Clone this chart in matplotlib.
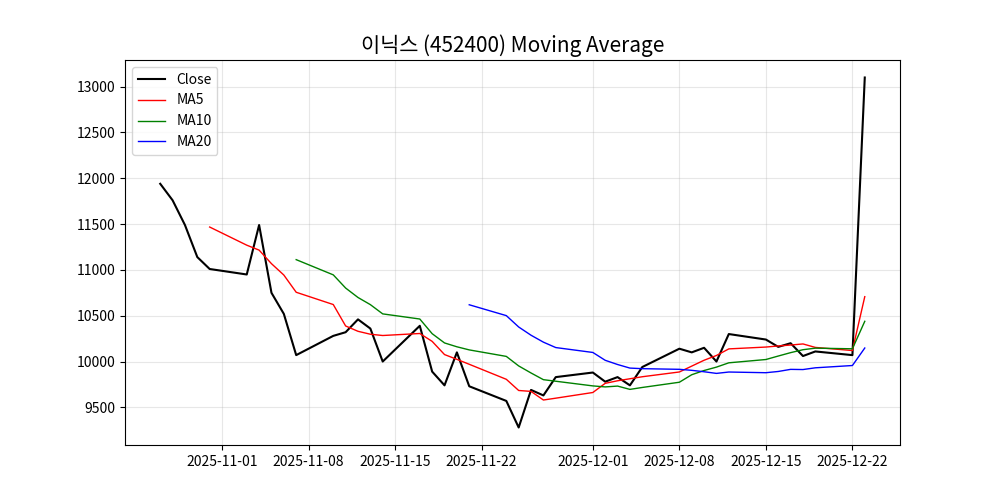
import pandas as pd
import matplotlib
matplotlib.use("Agg")
import matplotlib.pyplot as plt

plt.rcParams['font.family'] = ['Noto Sans CJK KR', 'DejaVu Sans']
plt.rcParams['axes.unicode_minus'] = False

# trading days
dates = pd.to_datetime([
    "2025-10-27", "2025-10-28", "2025-10-29", "2025-10-30", "2025-10-31",
    "2025-11-03", "2025-11-04", "2025-11-05", "2025-11-06", "2025-11-07",
    "2025-11-10", "2025-11-11", "2025-11-12", "2025-11-13", "2025-11-14",
    "2025-11-17", "2025-11-18", "2025-11-19", "2025-11-20", "2025-11-21",
    "2025-11-24", "2025-11-25", "2025-11-26", "2025-11-27", "2025-11-28",
    "2025-12-01", "2025-12-02", "2025-12-03", "2025-12-04", "2025-12-05",
    "2025-12-08", "2025-12-09", "2025-12-10", "2025-12-11", "2025-12-12",
    "2025-12-15", "2025-12-16", "2025-12-17", "2025-12-18", "2025-12-19",
    "2025-12-22", "2025-12-23",
])

close = [11940, 11760, 11490, 11140, 11010,
         10950, 11490, 10750, 10520, 10070,
         10280, 10320, 10460, 10360, 10000,
         10390, 9890, 9740, 10100, 9730,
         9570, 9280, 9690, 9630, 9830,
         9880, 9780, 9830, 9740, 9940,
         10140, 10100, 10150, 10000, 10300,
         10240, 10160, 10200, 10060, 10110,
         10070, 13100]

nan = float('nan')
ma5 = [nan] * 4 + [
    11468, 11270, 11216, 11068, 10944, 10756, 10622, 10388, 10330, 10298,
    10284, 10306, 10220, 10076, 10024, 9970, 9806, 9684, 9674, 9580,
    9600, 9662, 9762, 9790, 9812, 9834, 9886, 9950, 10014, 10066,
    10138, 10158, 10170, 10180, 10192, 10154, 10120, 10708]

ma10 = [nan] * 9 + [
    11112, 10946, 10802, 10699, 10621, 10520, 10464, 10304, 10203, 10161,
    10127, 10056, 9952, 9875, 9802, 9785, 9734, 9723, 9732, 9696,
    9717, 9774, 9856, 9902, 9939, 9986, 10022, 10060, 10097, 10129,
    10146, 10139, 10439]

ma20 = [nan] * 19 + [
    10619.5, 10501, 10377, 10287, 10211.5, 10152.5, 10099, 10013.5, 9967.5,
    9928.5, 9922, 9915, 9904, 9888.5, 9870.5, 9885.5, 9878, 9891.5, 9914.5,
    9912.5, 9931.5, 9956.5, 10147.5]

fig, ax = plt.subplots(figsize=(10, 5), dpi=100)
ax.plot(dates, close, color='black', lw=1.5, label='Close')
ax.plot(dates, ma5, color='red', lw=1, label='MA5')
ax.plot(dates, ma10, color='green', lw=1, label='MA10')
ax.plot(dates, ma20, color='blue', lw=1, label='MA20')

ax.set_title('이닉스 (452400) Moving Average', fontsize=15)
ax.legend(loc='upper left')
ax.grid(True, alpha=0.3)

fig.savefig('out.png')
